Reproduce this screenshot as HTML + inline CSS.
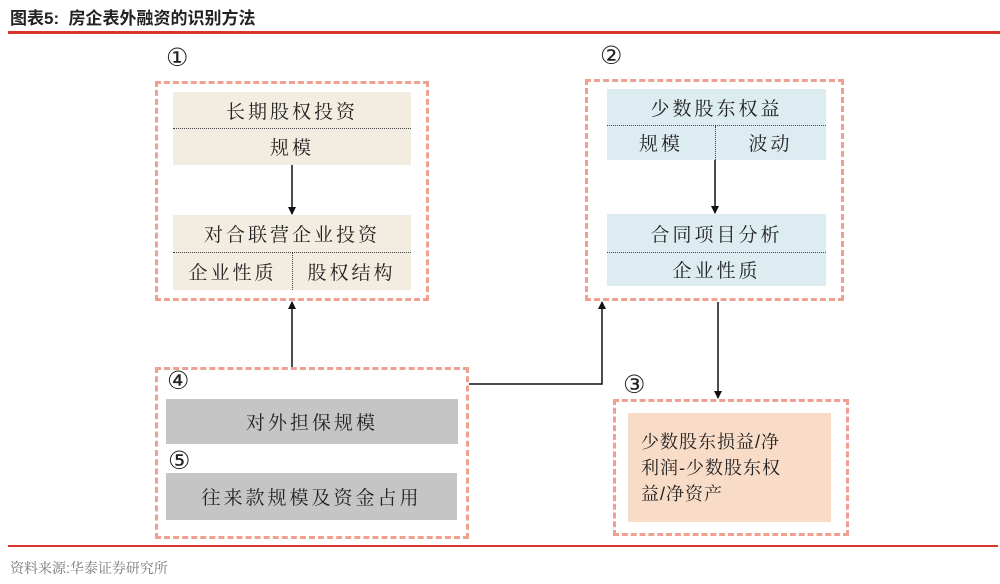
<!DOCTYPE html>
<html><head><meta charset="utf-8"><style>
body{margin:0;width:1000px;height:584px;background:#fff;position:relative;overflow:hidden;font-family:"Liberation Sans","Noto Serif CJK SC","Noto Sans CJK SC",serif;color:#222}
.a{position:absolute}
.dash{position:absolute;border:3px dashed #f0a090;box-sizing:border-box}
.bx{position:absolute;display:flex;align-items:center;justify-content:center;font-size:19px;letter-spacing:3px}
.tan{background:#f3ece0}.blue{background:#dcecf0}.gray{background:#c5c5c5}
.num{position:absolute;font-size:25px;font-family:"DejaVu Sans",sans-serif}
.hd{position:absolute;border-top:1.5px dotted #444}
.vd{position:absolute;border-left:1.5px dotted #444}
</style></head><body>
<div class="a" style="left:10px;top:4px;font-size:17px;font-weight:bold;font-family:'Liberation Sans','Noto Sans CJK SC',sans-serif">图表5:&nbsp; 房企表外融资的识别方法</div>
<div class="a" style="left:8px;top:31px;width:992px;height:3px;background:#d9352a"></div>

<div class="num" style="left:166px;top:43px">①</div>
<div class="dash" style="left:155px;top:81px;width:274px;height:220px"></div>
<div class="bx tan" style="left:173px;top:92px;width:238px;height:36px">长期股权投资</div>
<div class="bx tan" style="left:173px;top:128px;width:238px;height:37px">规模</div>
<div class="hd" style="left:173px;top:128px;width:238px"></div>
<div class="bx tan" style="left:173px;top:215px;width:238px;height:37px">对合联营企业投资</div>
<div class="bx tan" style="left:173px;top:252px;width:119px;height:38px">企业性质</div>
<div class="bx tan" style="left:292px;top:252px;width:119px;height:38px">股权结构</div>
<div class="hd" style="left:173px;top:252px;width:238px"></div>
<div class="vd" style="left:292px;top:253px;height:37px"></div>

<div class="num" style="left:600px;top:41px">②</div>
<div class="dash" style="left:585px;top:79px;width:259px;height:222px"></div>
<div class="bx blue" style="left:607px;top:89px;width:219px;height:36px">少数股东权益</div>
<div class="bx blue" style="left:607px;top:125px;width:108px;height:35px">规模</div>
<div class="bx blue" style="left:715px;top:125px;width:111px;height:35px">波动</div>
<div class="hd" style="left:607px;top:125px;width:219px"></div>
<div class="vd" style="left:715px;top:126px;height:34px"></div>
<div class="bx blue" style="left:607px;top:214px;width:219px;height:38px">合同项目分析</div>
<div class="bx blue" style="left:607px;top:252px;width:219px;height:34px">企业性质</div>
<div class="hd" style="left:607px;top:252px;width:219px"></div>

<div class="dash" style="left:155px;top:367px;width:314px;height:172px"></div>
<div class="num" style="left:167px;top:366px">④</div>
<div class="bx gray" style="left:166px;top:399px;width:292px;height:45px">对外担保规模</div>
<div class="num" style="left:168px;top:446px">⑤</div>
<div class="bx gray" style="left:166px;top:473px;width:291px;height:47px">往来款规模及资金占用</div>

<div class="num" style="left:623px;top:370px">③</div>
<div class="dash" style="left:613px;top:399px;width:236px;height:137px"></div>
<div class="a" style="left:628px;top:413px;width:203px;height:109px;background:#f9dcc8"></div>
<div class="a" style="left:641px;top:429px;width:190px;font-size:18px;line-height:26px;letter-spacing:1px;white-space:nowrap">少数股东损益/净<br>利润-少数股东权<br>益/净资产</div>

<svg class="a" style="left:0;top:0" width="1000" height="584">
<defs><marker id="m" markerWidth="8" markerHeight="8" refX="7" refY="4" orient="auto" markerUnits="userSpaceOnUse"><path d="M0,0 L8,4 L0,8z" fill="#111"/></marker></defs>
<g stroke="#111" stroke-width="1.5" fill="none">
<line x1="292" y1="165" x2="292" y2="214" marker-end="url(#m)"/>
<line x1="715" y1="160" x2="715" y2="213" marker-end="url(#m)"/>
<line x1="292" y1="367" x2="292" y2="302" marker-end="url(#m)"/>
<polyline points="469,384 602,384 602,302" marker-end="url(#m)"/>
<line x1="718" y1="302" x2="718" y2="398" marker-end="url(#m)"/>
</g></svg>

<div class="a" style="left:8px;top:545px;width:990px;height:2px;background:#d9352a"></div>
<div class="a" style="left:10px;top:558px;font-size:14px;color:#777">资料来源:华泰证券研究所</div>
</body></html>
